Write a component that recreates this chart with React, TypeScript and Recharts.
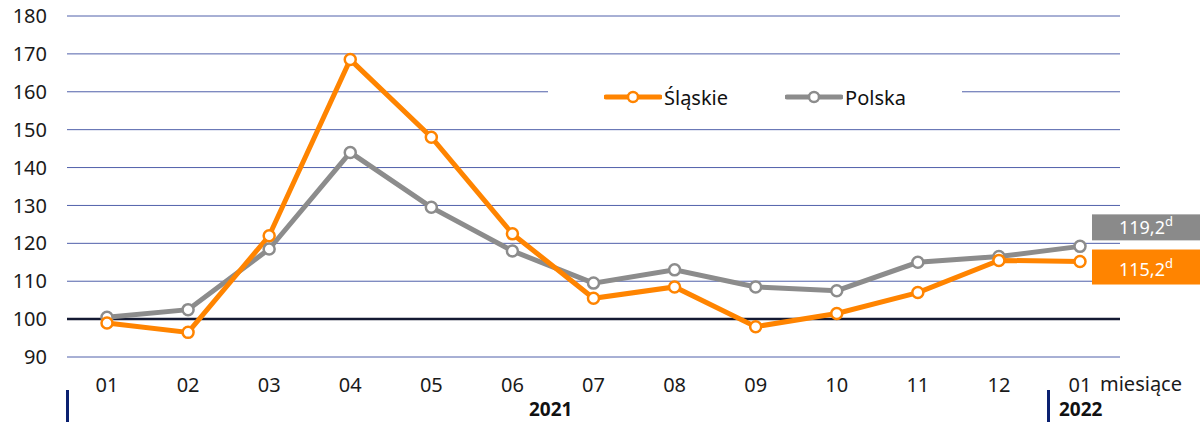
import React from "react";
import { LineChart, Line, XAxis, YAxis, CartesianGrid, ReferenceLine } from "recharts";

const months = ["01", "02", "03", "04", "05", "06", "07", "08", "09", "10", "11", "12", "01b"];
const slaskie = [99, 96.5, 122, 168.5, 148, 122.5, 105.5, 108.5, 98, 101.5, 107, 115.5, 115.2];
const polska = [100.5, 102.5, 118.5, 144, 129.5, 118, 109.5, 113, 108.5, 107.5, 115, 116.5, 119.2];
const yTicks = [90, 100, 110, 120, 130, 140, 150, 160, 170, 180];
const lastLabels = { slaskie: "115,2", polska: "119,2" };

const ORANGE = "#ff8400";
const GRAY = "#8c8c8c";
const FONT = "'Noto Sans', 'Open Sans', sans-serif";

const data = months.map((m, i) => ({ month: m, slaskie: slaskie[i], polska: polska[i] }));

const lastIndex = months.length - 1;

// box next to the last point, offsets relative to the point
const makeEndLabel = (text: string, fill: string, dyTop: number, h: number, base: number) => (props: any) => {
  const { x, y, index } = props;
  if (index !== lastIndex) return null;
  const bx = x + 12;
  const by = y + dyTop;
  return (
    <g>
      <rect x={bx} y={by} width={108} height={h} fill={fill} />
      <text x={bx + 54} y={by + base} textAnchor="middle" fill="#ffffff" fontSize={18} fontFamily={FONT}>
        {text}
        <tspan fontSize={13} dy={-8}>d</tspan>
      </text>
    </g>
  );
};

const LegendItem = ({ color, label }: { color: string; label: string }) => (
  <div style={{ display: "flex", alignItems: "center" }}>
    <svg width={58} height={14}>
      <line x1={2} y1={7} x2={56} y2={7} stroke={color} strokeWidth={5} strokeLinecap="round" />
      <circle cx={29} cy={7} r={5} fill="#fff" stroke={color} strokeWidth={2.5} />
    </svg>
    <span style={{ fontSize: 20, color: "#111", marginLeft: 2 }}>{label}</span>
  </div>
);

export default function App() {
  return (
    <div style={{ position: "absolute", left: 0, top: 0, width: 1200, height: 422, background: "#fff", fontFamily: FONT }}>
      <LineChart width={1200} height={422} data={data} margin={{ top: 16, right: 80, bottom: 35, left: 0 }}>
        <CartesianGrid vertical={false} stroke="#5060aa" strokeWidth={1} />
        <XAxis
          dataKey="month"
          axisLine={false}
          tickLine={false}
          tickSize={0}
          tickMargin={21}
          height={30}
          padding={{ left: 40, right: 40 }}
          interval={0}
          tickFormatter={(v: string) => v.slice(0, 2)}
          tick={{ fontSize: 20, fill: "#1a1a1a", fontFamily: FONT }}
        />
        <YAxis
          domain={[90, 180]}
          ticks={yTicks}
          axisLine={false}
          tickLine={false}
          tickSize={0}
          tickMargin={20}
          width={67}
          tick={{ fontSize: 20, fill: "#1a1a1a", fontFamily: FONT }}
        />
        <ReferenceLine y={100} stroke="#141a33" strokeWidth={2.5} />
        <Line
          dataKey="polska"
          stroke={GRAY}
          strokeWidth={5}
          dot={{ r: 5.5, fill: "#fff", stroke: GRAY, strokeWidth: 2.5 }}
          isAnimationActive={false}
          label={makeEndLabel(lastLabels.polska, "#8a8a8a", -32, 26, 20)}
        />
        <Line
          dataKey="slaskie"
          stroke={ORANGE}
          strokeWidth={5}
          dot={{ r: 5.5, fill: "#fff", stroke: ORANGE, strokeWidth: 2.5 }}
          isAnimationActive={false}
          label={makeEndLabel(lastLabels.slaskie, ORANGE, -12, 35, 26)}
        />
      </LineChart>

      <div
        style={{
          position: "absolute",
          left: 548,
          top: 72,
          width: 414,
          height: 50,
          background: "#fff",
          display: "flex",
          alignItems: "center",
          paddingLeft: 56,
          boxSizing: "border-box",
          gap: 57,
        }}
      >
        <LegendItem color={ORANGE} label="Śląskie" />
        <LegendItem color={GRAY} label="Polska" />
      </div>

      <div style={{ position: "absolute", left: 1100, top: 370, fontSize: 20, color: "#1a1a1a" }}>miesiące</div>
      <div style={{ position: "absolute", left: 66, top: 390, width: 3, height: 32, background: "#0a2070" }} />
      <div style={{ position: "absolute", left: 1047, top: 390, width: 3, height: 32, background: "#0a2070" }} />
      <div style={{ position: "absolute", left: 529, top: 396, fontSize: 19, fontWeight: 700, color: "#111" }}>2021</div>
      <div style={{ position: "absolute", left: 1059, top: 396, fontSize: 19, fontWeight: 700, color: "#111" }}>2022</div>
    </div>
  );
}
